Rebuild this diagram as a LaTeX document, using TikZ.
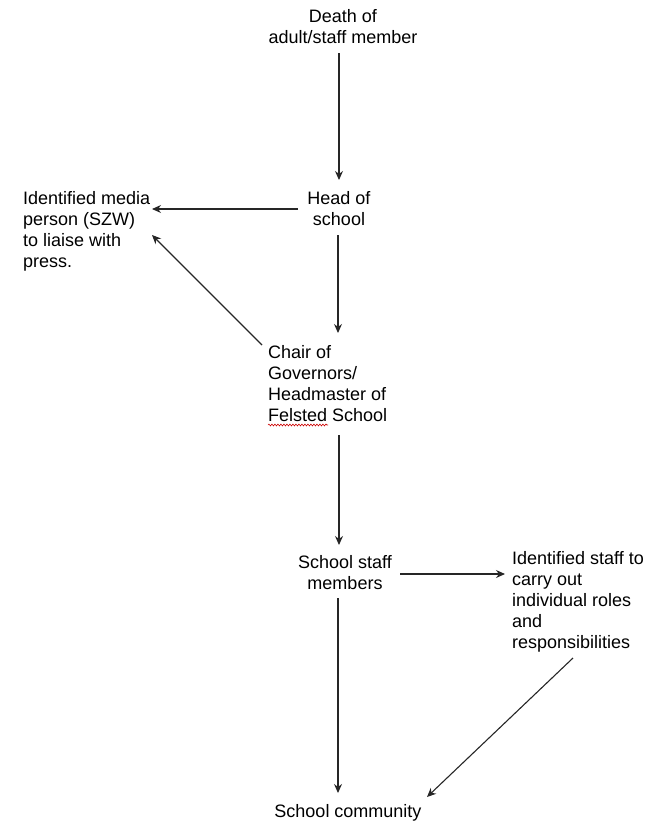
\documentclass[tikz,border=0pt]{standalone}
\usepackage{fontspec}
\setmainfont{Liberation Sans}
\usetikzlibrary{arrows.meta,calc,decorations.pathmorphing}
\begin{document}
\begin{tikzpicture}[x=1pt,y=-1pt,
  lbl/.style={inner sep=0pt,font=\fontsize{18}{21}\selectfont,text=black},
  lblc/.style={lbl,align=center,anchor=base},
  lbll/.style={lbl,align=left,anchor=base west},
  arr/.style={draw=black!85,line width=1.1pt,-{Stealth[length=9pt,width=8pt]}},
  squig/.style={draw=red!80!black,line width=0.6pt,decorate,decoration={snake,amplitude=0.9pt,segment length=3pt}}]
\useasboundingbox (0,0) rectangle (654,822);
\node[lblc] (death) at (343,43) {Death of\\adult/staff member};
\node[lblc] (head) at (339,225) {Head of\\school};
\node[lbll] (media) at (23,267) {Identified media\\person (SZW)\\to liaise with\\press.};
\node[lbll] (chair) at (268,421) {Chair of\\Governors/\\Headmaster of\\Felsted School};
\node[lblc] (staff) at (345,589) {School staff\\members};
\node[lbll] (idstaff) at (512,648) {Identified staff to\\carry out\\individual roles\\and\\responsibilities};
\node[lblc] (community) at (348,817) {School community};
\draw[arr] ($(death.base)+(-4,10)$) -- ($(head.base)+(0,-45)$);
\draw[arr] ($(head.base)+(-41,-16)$) -- ($(media.base west)+(129,-58)$);
\draw[arr] ($(head.base)+(-1,10)$) -- ($(chair.base west)+(70,-88)$);
\draw[arr] ($(chair.base west)+(-6,-76)$) -- ($(media.base west)+(129,-32)$);
\draw[arr] ($(chair.base west)+(71,14)$) -- ($(staff.base)+(-6,-44)$);
\draw[arr] ($(staff.base)+(55,-15)$) -- ($(idstaff.base west)+(-7,-74)$);
\draw[arr] ($(staff.base)+(-7,9)$) -- ($(community.base)+(-10,-24)$);
\draw[arr] ($(idstaff.base west)+(61,10)$) -- ($(community.base)+(79,-20)$);
\draw[squig] ($(chair.base west)+(0,4)$) -- ($(chair.base west)+(60,4)$);
\end{tikzpicture}
\end{document}
